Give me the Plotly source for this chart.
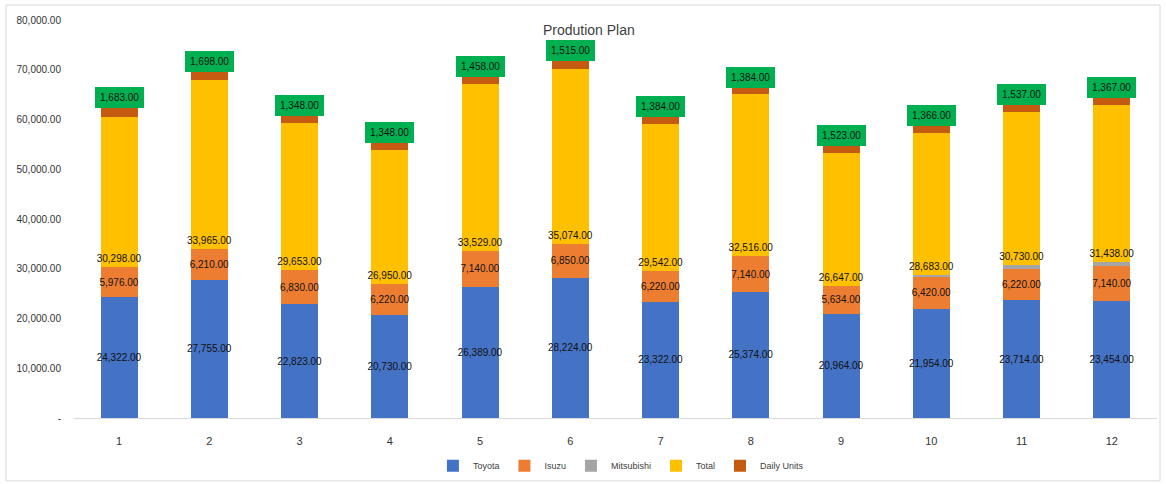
import plotly.graph_objects as go

months = ["1", "2", "3", "4", "5", "6", "7", "8", "9", "10", "11", "12"]
toyota = [24322, 27755, 22823, 20730, 26389, 28224, 23322, 25374, 20964, 21954, 23714, 23454]
isuzu = [5976, 6210, 6830, 6220, 7140, 6850, 6220, 7140, 5634, 6420, 6220, 7140]
mitsubishi = [0, 0, 0, 0, 0, 0, 0, 0, 0, 309, 796, 844]
total = [30298, 33965, 29653, 26950, 33529, 35074, 29542, 32516, 26647, 28683, 30730, 31438]
daily_units = [1683, 1698, 1348, 1348, 1458, 1515, 1384, 1384, 1523, 1366, 1537, 1367]

y_tick_vals = [0, 10000, 20000, 30000, 40000, 50000, 60000, 70000, 80000]
y_tick_text = ["-", "10,000.00", "20,000.00", "30,000.00", "40,000.00",
               "50,000.00", "60,000.00", "70,000.00", "80,000.00"]

FONT = "Liberation Sans, Arial, sans-serif"
label_font = dict(family=FONT, size=10, color="#111111")

fig = go.Figure()
fig.add_trace(go.Bar(name="Toyota", x=months, y=toyota, marker_color="#4472C4",
                     texttemplate="%{y:,.2f}", textposition="inside", insidetextanchor="middle",
                     textangle=0, constraintext="none", textfont=label_font, marker_line_width=0))
fig.add_trace(go.Bar(name="Isuzu", x=months, y=isuzu, marker_color="#ED7D31",
                     texttemplate="%{y:,.2f}", textposition="inside", insidetextanchor="middle",
                     textangle=0, constraintext="none", textfont=label_font, marker_line_width=0))
fig.add_trace(go.Bar(name="Mitsubishi", x=months, y=mitsubishi, marker_color="#A5A5A5",
                     marker_line_width=0))
fig.add_trace(go.Bar(name="Total", x=months, y=total, marker_color="#FFC000",
                     texttemplate="%{y:,.2f}", textposition="inside", insidetextanchor="start",
                     textangle=0, constraintext="none", textfont=label_font, marker_line_width=0))
fig.add_trace(go.Bar(name="Daily Units", x=months, y=daily_units, marker_color="#C55A11",
                     marker_line_width=0))

for i, m in enumerate(months):
    top = toyota[i] + isuzu[i] + mitsubishi[i] + total[i] + daily_units[i]
    fig.add_annotation(x=i, y=top, xref="x", yref="y", text=f"{daily_units[i]:,.2f}",
                       showarrow=False, yanchor="bottom", yshift=0,
                       bgcolor="#00B050", bordercolor="#00B050", borderpad=4,
                       font=dict(family=FONT, size=10, color="#111111"))

# chart border
fig.add_shape(type="rect", xref="paper", yref="paper", x0=-0.0628, x1=1.0028, y0=-0.158, y1=1.0377,
              line=dict(color="#D9D9D9", width=1), fillcolor="rgba(0,0,0,0)", layer="below")

fig.update_layout(
    barmode="stack",
    bargap=0.59,
    width=1166, height=484,
    margin=dict(l=74, r=9, t=20, b=66, autoexpand=False),
    paper_bgcolor="white", plot_bgcolor="white",
    font=dict(family=FONT, size=11, color="#404040"),
    title=dict(text="Prodution Plan", x=0.505, xanchor="center", y=1 - 30 / 484, yanchor="middle",
               font=dict(family=FONT, size=14, color="#404040")),
    legend=dict(orientation="h", x=0.505, xanchor="center", y=-0.12, yanchor="middle",
                bgcolor="rgba(0,0,0,0)",
                font=dict(family=FONT, size=9, color="#404040"), itemwidth=30,
                tracegroupgap=0, traceorder="normal"),
    xaxis=dict(type="category", range=[-0.5, 11.5], showgrid=False, zeroline=False, showline=True,
               linecolor="#D9D9D9", linewidth=1, ticks="outside", ticklen=13,
               tickcolor="rgba(0,0,0,0)", tickfont=dict(family=FONT, size=11, color="#333333")),
    yaxis=dict(range=[0, 80000], tickvals=y_tick_vals, ticktext=y_tick_text, showgrid=False,
               zeroline=False, showline=False, ticks="outside", ticklen=10,
               tickcolor="rgba(0,0,0,0)", tickfont=dict(family=FONT, size=10, color="#333333")),
)

fig.write_html("out.html")
